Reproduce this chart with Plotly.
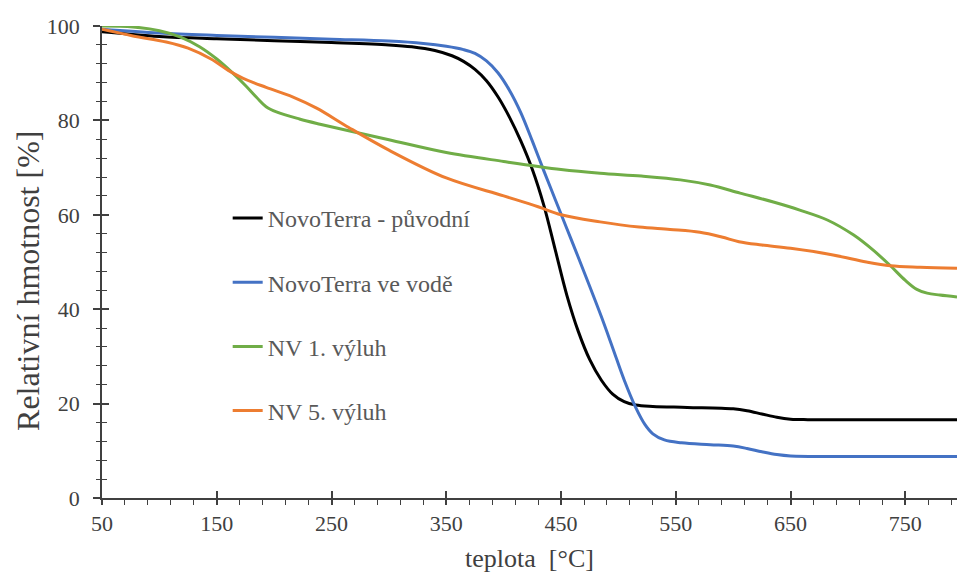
import plotly.graph_objects as go

# Thermogravimetric curves: temperature [°C] vs. relative mass [%]
black_t = [50, 100, 150, 200, 250, 300, 320, 340, 355, 365, 375, 385, 395, 405, 415, 425, 435, 445, 455, 465, 475, 485, 495, 505, 515, 530, 560, 600, 612, 625, 638, 650, 665, 700, 750, 795]
black_w = [98.8, 97.8, 97.3, 96.9, 96.5, 96.0, 95.6, 94.8, 93.7, 92.5, 90.8, 88.4, 85.0, 80.7, 75.6, 69.6, 62.0, 52.5, 43.0, 35.3, 29.3, 25.0, 22.0, 20.4, 19.7, 19.4, 19.2, 18.9, 18.5, 17.8, 17.1, 16.7, 16.6, 16.6, 16.6, 16.6]

blue_t = [50, 100, 150, 200, 250, 300, 330, 350, 365, 375, 385, 395, 405, 415, 425, 435, 445, 455, 465, 475, 485, 495, 505, 515, 523, 530, 540, 555, 580, 600, 612, 625, 638, 650, 700, 750, 795]
blue_w = [99.3, 98.5, 98.0, 97.6, 97.2, 96.8, 96.3, 95.7, 95.0, 94.2, 92.6, 90.1, 86.4, 81.6, 75.6, 69.3, 63.2, 57.1, 51.0, 44.8, 38.5, 31.8, 25.0, 19.2, 15.6, 13.6, 12.3, 11.7, 11.3, 11.0, 10.5, 9.8, 9.2, 8.9, 8.8, 8.8, 8.8]

green_t = [50, 77, 100, 118, 135, 150, 164, 175, 185, 193, 202, 222, 240, 265, 300, 350, 400, 450, 484, 520, 554, 580, 606, 635, 658, 682, 705, 722, 737, 750, 760, 769, 780, 795]
green_w = [100.0, 99.8, 99.0, 97.7, 95.6, 93.0, 90.0, 87.4, 84.8, 82.9, 81.8, 80.3, 79.2, 77.8, 75.9, 73.2, 71.3, 69.6, 68.8, 68.2, 67.4, 66.3, 64.6, 62.7, 61.0, 58.9, 55.7, 52.5, 49.2, 46.1, 44.2, 43.4, 43.0, 42.6]

orange_t = [50, 77, 106, 125, 145, 160, 173, 193, 216, 237, 265, 300, 350, 400, 430, 450, 484, 518, 545, 571, 590, 605, 625, 650, 687, 716, 737, 763, 795]
orange_w = [99.3, 97.9, 96.6, 95.3, 93.0, 90.6, 88.9, 87.0, 85.0, 82.6, 78.5, 73.7, 67.8, 64.0, 61.7, 60.0, 58.5, 57.4, 56.9, 56.3, 55.3, 54.3, 53.6, 52.9, 51.5, 50.0, 49.2, 48.9, 48.7]

series = [
    ("NovoTerra - původní", black_t, black_w, "#000000"),
    ("NovoTerra ve vodě", blue_t, blue_w, "#4472C4"),
    ("NV 1. výluh", green_t, green_w, "#70AD47"),
    ("NV 5. výluh", orange_t, orange_w, "#ED7D31"),
]

x_ticks = [50, 150, 250, 350, 450, 550, 650, 750]
y_ticks = [0, 20, 40, 60, 80, 100]

FONT = "Times New Roman, Liberation Serif, DejaVu Serif, serif"
GREY = "#404040"

fig = go.Figure()
for i, (name, t, w, col) in enumerate(series):
    fig.add_trace(go.Scatter(
        x=t, y=w, name=name, mode="lines",
        line=dict(color=col, width=3, shape="spline", smoothing=1.0),
        legendgroup=f"g{i}",
    ))

# companion axes that carry the inward half of the crossing tick marks
fig.add_trace(go.Scatter(x=[None], y=[None], xaxis="x2", yaxis="y2",
                         showlegend=False, hoverinfo="skip"))

x_range = [50, 795]
y_range = [0, 100]

fig.update_layout(
    width=957, height=573,
    margin=dict(l=102, r=0, t=26, b=75),
    plot_bgcolor="white", paper_bgcolor="white",
    font=dict(family=FONT, color=GREY, size=22),
    showlegend=True,
    legend=dict(
        x=0.147, y=0.64, xanchor="left", yanchor="top",
        bgcolor="rgba(0,0,0,0)", font=dict(family=FONT, size=24, color="#595959"),
        tracegroupgap=30,
    ),
    xaxis=dict(
        range=x_range, tickvals=x_ticks, ticktext=[str(v) for v in x_ticks],
        showgrid=False, zeroline=False,
        showline=True, linecolor=GREY, linewidth=1.5,
        ticks="outside", ticklen=5, tickwidth=1.5, tickcolor=GREY,
        minor=dict(dtick=20, tick0=50, ticks="outside", ticklen=5,
                   tickwidth=1.2, tickcolor=GREY, showgrid=False),
        tickfont=dict(family=FONT, size=22, color=GREY),
        title=dict(text="teplota\u00a0 [°C]", font=dict(family=FONT, size=26, color=GREY), standoff=18),
    ),
    yaxis=dict(
        range=y_range, tickvals=y_ticks,
        showgrid=False, zeroline=False,
        showline=True, linecolor=GREY, linewidth=1.5,
        ticks="outside", ticklen=7, tickwidth=1.5, tickcolor=GREY,
        ticklabelstandoff=9,
        minor=dict(dtick=4, tick0=0, ticks="outside", ticklen=4,
                   tickwidth=1.2, tickcolor=GREY, showgrid=False),
        tickfont=dict(family=FONT, size=22, color=GREY),
    ),
    xaxis2=dict(
        overlaying="x", anchor="y2", range=x_range, tickvals=x_ticks,
        showticklabels=False, showgrid=False, zeroline=False, showline=False,
        ticks="inside", ticklen=7, tickwidth=1.5, tickcolor=GREY,
    ),
    yaxis2=dict(
        overlaying="y", anchor="x2", range=y_range, tickvals=y_ticks,
        showticklabels=False, showgrid=False, zeroline=False, showline=False,
        ticks="inside", ticklen=7, tickwidth=1.5, tickcolor=GREY,
        minor=dict(dtick=4, tick0=0, ticks="inside", ticklen=5,
                   tickwidth=1.2, tickcolor=GREY, showgrid=False),
    ),
)

# vertical axis title, set a little below the plot's mid-height
fig.add_annotation(
    text="Relativní hmotnost [%]", textangle=-90,
    xref="paper", yref="paper", x=-0.0865, y=0.46,
    xanchor="center", yanchor="middle", showarrow=False,
    font=dict(family=FONT, size=32, color=GREY),
)

fig.write_html("out.html")
